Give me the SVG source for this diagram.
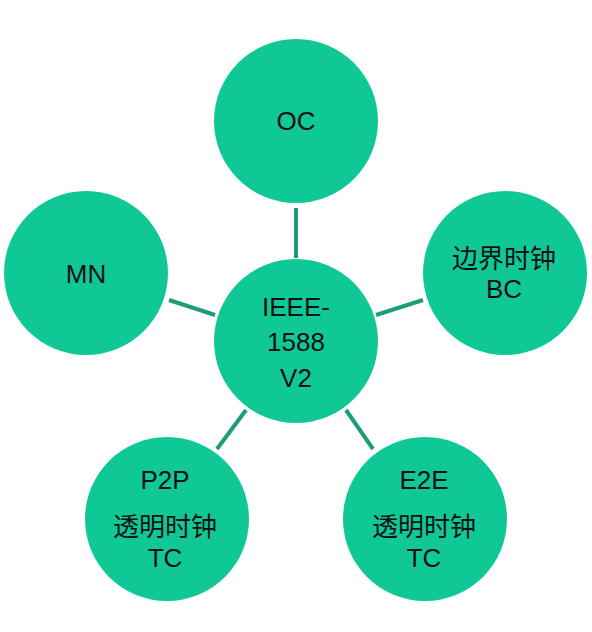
<svg xmlns="http://www.w3.org/2000/svg" width="592" height="632" viewBox="0 0 592 632">
<style>
.n{fill:#10c896;}
.t{font-family:"Liberation Sans","Noto Sans CJK SC",Arial,sans-serif;font-size:26px;fill:#111;text-anchor:middle;}
.c{stroke:#1e9c7a;stroke-width:4;fill:none;}
</style>
<rect width="592" height="632" fill="#fff"/>
<g id="connectors">
<line class="c" x1="296" y1="208" x2="296" y2="258"/>
<line class="c" x1="169" y1="300" x2="215" y2="315"/>
<line class="c" x1="376" y1="315" x2="423" y2="300"/>
<line class="c" x1="217" y1="449" x2="246" y2="410"/>
<line class="c" x1="346" y1="410" x2="373" y2="449"/>
</g>
<g id="center">
<circle class="n" cx="296" cy="341" r="82"/>
<text class="t" x="296" y="316" font-size="27">IEEE-</text>
<text class="t" x="296" y="351" font-size="27">1588</text>
<text class="t" x="296" y="387" font-size="27">V2</text>
</g>
<g id="oc">
<circle class="n" cx="296" cy="121" r="82"/>
<text class="t" x="296" y="130">OC</text>
</g>
<g id="mn">
<circle class="n" cx="86" cy="273" r="82"/>
<text class="t" x="86" y="283">MN</text>
</g>
<g id="bc">
<circle class="n" cx="505" cy="273" r="82"/>
<text class="t" x="504" y="268" font-size="25">边界时钟</text>
<text class="t" x="504" y="298">BC</text>
</g>
<g id="p2p">
<circle class="n" cx="167" cy="519" r="82"/>
<text class="t" x="165" y="489">P2P</text>
<text class="t" x="165" y="536" font-size="25">透明时钟</text>
<text class="t" x="165" y="567">TC</text>
</g>
<g id="e2e">
<circle class="n" cx="425" cy="519" r="82"/>
<text class="t" x="424" y="489">E2E</text>
<text class="t" x="424" y="536" font-size="25">透明时钟</text>
<text class="t" x="424" y="567">TC</text>
</g>
</svg>
